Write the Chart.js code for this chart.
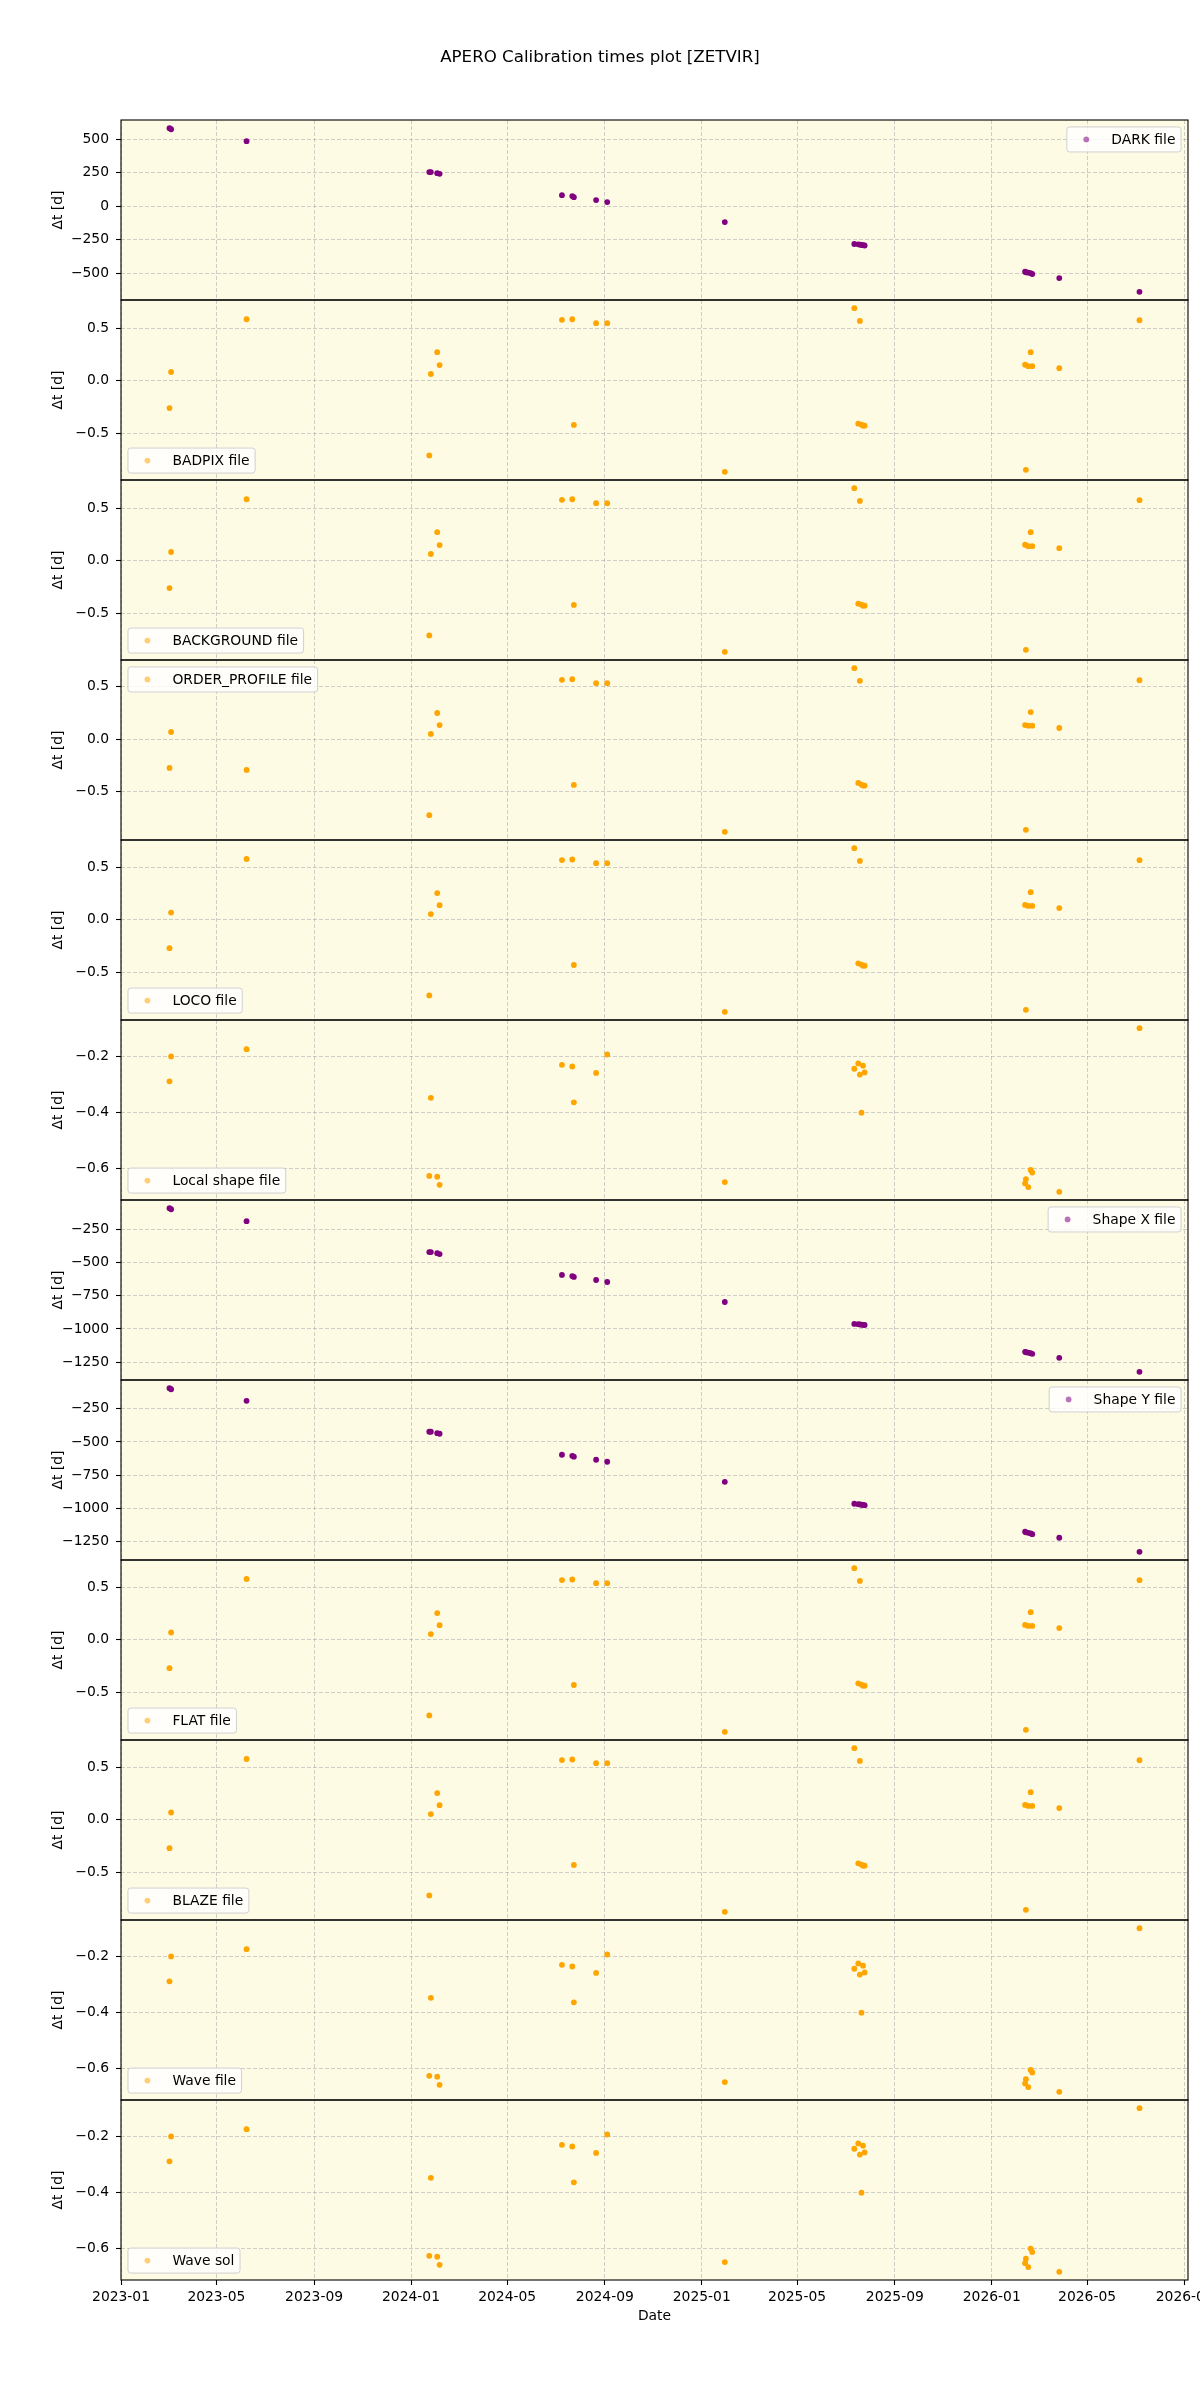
<!DOCTYPE html>
<html>
<head>
<meta charset="utf-8">
<script src="https://cdn.jsdelivr.net/npm/chart.js@4.4.0/dist/chart.umd.min.js"></script>
<style>
html,body{margin:0;padding:0;background:#ffffff;}
#c{display:block;}
</style>
</head>
<body>
<canvas id="c" width="1200" height="2400" style="width:1200px;height:2400px"></canvas>
<script>
// ---------------- DATA ----------------
const chartTitle = 'APERO Calibration times plot [ZETVIR]';
const obsDates = ['2023-03-03','2023-03-05','2023-06-08','2024-01-24','2024-01-26','2024-02-03','2024-02-06',
  '2024-07-09','2024-07-22','2024-07-24','2024-08-21','2024-09-04','2025-01-30',
  '2025-07-12','2025-07-17','2025-07-19','2025-07-21','2025-07-23','2025-07-25',
  '2026-02-12','2026-02-13','2026-02-16','2026-02-19','2026-02-21','2026-03-27','2026-07-06'];

const panelLabels = ['DARK file','BADPIX file','BACKGROUND file','ORDER_PROFILE file','LOCO file',
  'Local shape file','Shape X file','Shape Y file','FLAT file','BLAZE file','Wave file','Wave sol'];

const darkDt = [582, 574, 485, 254, 254, 246, 241, 82, 75, 67, 45, 30, -119,
  -283, -285, -287, -290, -292, -294, -490, -494, -497, -500, -507, -537, -640];
const badpixDt = [-0.26, 0.083, 0.585, -0.71, 0.064, 0.272, 0.149, 0.579, 0.585, -0.42, 0.547, 0.547, -0.866,
  0.69, -0.408, 0.569, -0.417, -0.427, -0.427, 0.152, -0.847, 0.139, 0.272, 0.139, 0.12, 0.576];
const backgroundDt = [-0.26, 0.083, 0.585, -0.71, 0.064, 0.272, 0.149, 0.579, 0.585, -0.42, 0.547, 0.547, -0.866,
  0.69, -0.408, 0.569, -0.417, -0.427, -0.427, 0.152, -0.847, 0.139, 0.272, 0.139, 0.12, 0.576];
const orderProfileDt = [-0.276, 0.067, -0.295, -0.727, 0.048, 0.248, 0.133, 0.565, 0.571, -0.438, 0.533, 0.533, -0.886,
  0.676, -0.419, 0.555, -0.435, -0.445, -0.445, 0.133, -0.867, 0.127, 0.257, 0.127, 0.105, 0.562];
const locoDt = [-0.27, 0.07, 0.58, -0.72, 0.055, 0.255, 0.14, 0.57, 0.575, -0.43, 0.54, 0.54, -0.876,
  0.683, -0.414, 0.562, -0.426, -0.436, -0.436, 0.142, -0.857, 0.133, 0.264, 0.133, 0.112, 0.569];
const localShapeDt = [-0.290, -0.201, -0.175, -0.628, -0.349, -0.631, -0.660, -0.231, -0.237, -0.365, -0.260, -0.194, -0.650,
  -0.245, -0.226, -0.266, -0.402, -0.234, -0.258, -0.655, -0.640, -0.668, -0.607, -0.616, -0.685, -0.100];
const shapeXDt = [-92, -100, -190, -422, -422, -430, -437, -594, -602, -609, -632, -647, -797,
  -962, -964, -966, -968, -969, -970, -1172, -1175, -1178, -1182, -1187, -1217, -1322];
const shapeYDt = [-95, -103, -190, -423, -423, -434, -438, -596, -604, -611, -634, -649, -800,
  -965, -968, -970, -972, -974, -976, -1176, -1180, -1184, -1188, -1194, -1221, -1327];
const flatDt = [-0.27, 0.07, 0.58, -0.72, 0.055, 0.255, 0.14, 0.57, 0.575, -0.43, 0.54, 0.54, -0.876,
  0.683, -0.414, 0.562, -0.426, -0.436, -0.436, 0.142, -0.857, 0.133, 0.264, 0.133, 0.112, 0.569];
const blazeDt = [-0.27, 0.07, 0.58, -0.72, 0.055, 0.255, 0.14, 0.57, 0.575, -0.43, 0.54, 0.54, -0.876,
  0.683, -0.414, 0.562, -0.426, -0.436, -0.436, 0.142, -0.857, 0.133, 0.264, 0.133, 0.112, 0.569];
const waveDt = [-0.290, -0.201, -0.175, -0.628, -0.349, -0.631, -0.660, -0.231, -0.237, -0.365, -0.260, -0.194, -0.650,
  -0.245, -0.226, -0.266, -0.402, -0.234, -0.258, -0.655, -0.640, -0.668, -0.607, -0.616, -0.685, -0.100];
const waveSolDt = [-0.290, -0.201, -0.175, -0.628, -0.349, -0.631, -0.660, -0.231, -0.237, -0.365, -0.260, -0.194, -0.650,
  -0.245, -0.226, -0.266, -0.402, -0.234, -0.258, -0.654, -0.638, -0.668, -0.602, -0.614, -0.685, -0.100];

const xTickLabels = ['2023-01','2023-05','2023-09','2024-01','2024-05','2024-09','2025-01','2025-05','2025-09','2026-01','2026-05','2026-09'];
const yStepSizes = [250, 0.5, 0.5, 0.5, 0.5, 0.2, 250, 250, 0.5, 0.5, 0.2, 0.2];
const yAxisTitle = '\u0394t [d]';
const xAxisTitle = 'Date';

// ---------------- STYLE ----------------
const PURPLE = '#800080', ORANGE = '#ffa500';
const panelColors = [PURPLE, ORANGE, ORANGE, ORANGE, ORANGE, ORANGE, PURPLE, PURPLE, ORANGE, ORANGE, ORANGE, ORANGE];
const legendLoc = ['ur','ll','ll','ul','ll','ll','ur','ur','ll','ll','ll','ll'];
const FONT = '"DejaVu Sans", "Liberation Sans", sans-serif';
const FS = 13.89;
const BG = '#fdfbe3';
const GRID = 'rgba(150,150,160,0.45)';

// ---------------- BUILD ----------------
const panelValues = [darkDt, badpixDt, backgroundDt, orderProfileDt, locoDt, localShapeDt,
  shapeXDt, shapeYDt, flatDt, blazeDt, waveDt, waveSolDt];
const DAY0 = Date.UTC(2023, 0, 1);
const dayNum = s => (Date.UTC(+s.slice(0,4), +s.slice(5,7) - 1, +s.slice(8,10)) - DAY0) / 86400000;
const xs = obsDates.map(dayNum);
const xTickVals = xTickLabels.map(l => dayNum(l + '-01'));
const xLo = Math.min(...xs), xHi = Math.max(...xs), xPad = 0.05 * (xHi - xLo);

function fmtTick(v, step) {
  const dec = step >= 1 ? 0 : 1;
  const s = Math.abs(v) < 1e-9 ? (0).toFixed(dec) : v.toFixed(dec);
  return s.replace('-', '\u2212');
}

const datasets = panelValues.map((vals, i) => ({
  label: panelLabels[i],
  data: vals.map((v, j) => ({x: xs[j], y: v})),
  yAxisID: 'y' + i,
  xAxisID: 'x',
  showLine: false,
  pointRadius: 2.9,
  pointHoverRadius: 2.9,
  pointBorderWidth: 0,
  pointBackgroundColor: panelColors[i],
  pointBorderColor: panelColors[i],
  backgroundColor: panelColors[i],
  borderColor: panelColors[i]
}));

const scales = {
  x: {
    type: 'linear',
    position: 'bottom',
    min: xLo - xPad,
    max: xHi + xPad,
    bounds: 'data',
    afterBuildTicks: s => { s.ticks = xTickVals.map(v => ({value: v})); },
    afterFit: s => { s.height = 120; s.paddingLeft = 0; s.paddingRight = 12; },
    ticks: {
      autoSkip: false, maxRotation: 0, minRotation: 0, padding: 4,
      color: '#000', font: {family: FONT, size: FS},
      callback: (v, i) => xTickLabels[i]
    },
    grid: { color: GRID, lineWidth: 1, tickLength: 5, tickColor: '#000', tickWidth: 1.1, drawTicks: true },
    border: { display: false, dash: [4, 2] },
    title: { display: true, text: xAxisTitle, color: '#000', font: {family: FONT, size: FS}, padding: {top: 0, bottom: 75} }
  }
};
panelValues.forEach((vals, i) => {
  const lo = Math.min(...vals), hi = Math.max(...vals), pad = 0.05 * (hi - lo);
  const step = yStepSizes[i];
  scales['y' + i] = {
    type: 'linear',
    position: 'left',
    stack: 'panels',
    stackWeight: 1,
    weight: 12 - i,
    offset: false,
    min: lo - pad,
    max: hi + pad,
    bounds: 'data',
    afterBuildTicks: s => {
      const t = [];
      for (let k = Math.ceil(s.min / step - 1e-9); k * step <= s.max + 1e-9; k++) {
        t.push({value: +(k * step).toFixed(6)});
      }
      s.ticks = t;
    },
    afterFit: s => { s.width = 121; s.paddingTop = 0; s.paddingBottom = 0; },
    ticks: {
      padding: 7, autoSkip: false,
      color: '#000', font: {family: FONT, size: FS},
      callback: v => fmtTick(v, step)
    },
    grid: { color: GRID, lineWidth: 1, tickLength: 5, tickColor: '#000', tickWidth: 1.1, drawTicks: true },
    border: { display: false, dash: [4, 2] },
    title: { display: true, text: yAxisTitle, color: '#000', font: {family: FONT, size: FS}, padding: {top: 50, bottom: 0} }
  };
});

const bgPlugin = {
  id: 'bgPlugin',
  beforeDraw(chart) {
    const {ctx, chartArea: a} = chart;
    ctx.save();
    ctx.fillStyle = '#ffffff';
    ctx.fillRect(0, 0, chart.width, chart.height);
    ctx.fillStyle = BG;
    ctx.fillRect(a.left, a.top, a.right - a.left, a.bottom - a.top);
    ctx.restore();
  }
};

const spinePlugin = {
  id: 'spinePlugin',
  afterDatasetsDraw(chart) {
    const {ctx, chartArea: a} = chart;
    ctx.save();
    ctx.strokeStyle = '#000';
    ctx.lineWidth = 1.1;
    panelValues.forEach((v, i) => {
      const s = chart.scales['y' + i];
      ctx.strokeRect(a.left, s.top, a.right - a.left, s.bottom - s.top);
    });
    ctx.restore();
  }
};

const panelLegendPlugin = {
  id: 'panelLegend',
  afterDraw(chart) {
    const {ctx, chartArea: a} = chart;
    const pad = 0.4 * FS, hl = 2 * FS, htp = 0.8 * FS, axpad = 0.5 * FS;
    ctx.save();
    ctx.font = FS + 'px ' + FONT;
    chart.data.datasets.forEach((ds, i) => {
      const s = chart.scales['y' + i];
      const tw = ctx.measureText(ds.label).width;
      const w = pad + hl + htp + tw + pad;
      const h = 2 * pad + FS;
      const loc = legendLoc[i];
      const x = loc === 'ur' ? a.right - axpad - w : a.left + axpad;
      const y = loc === 'll' ? s.bottom - axpad - h : s.top + axpad;
      ctx.beginPath();
      ctx.roundRect(x, y, w, h, 2.8);
      ctx.fillStyle = 'rgba(255,255,255,0.8)';
      ctx.fill();
      ctx.lineWidth = 1;
      ctx.strokeStyle = '#d0d0d0';
      ctx.stroke();
      ctx.beginPath();
      ctx.arc(x + pad + hl / 2, y + h / 2, 2.9, 0, Math.PI * 2);
      ctx.globalAlpha = 0.55;
      ctx.fillStyle = panelColors[i];
      ctx.fill();
      ctx.globalAlpha = 1;
      ctx.fillStyle = '#000';
      ctx.textAlign = 'left';
      ctx.textBaseline = 'middle';
      ctx.fillText(ds.label, x + pad + hl + htp, y + h / 2 + 0.5);
    });
    ctx.restore();
  }
};

Chart.defaults.font.family = FONT;
Chart.defaults.font.size = FS;
Chart.defaults.color = '#000';

new Chart(document.getElementById('c'), {
  type: 'scatter',
  data: { datasets },
  options: {
    responsive: false,
    maintainAspectRatio: false,
    devicePixelRatio: 1,
    animation: false,
    events: [],
    layout: { padding: 0 },
    scales,
    plugins: {
      legend: { display: false },
      tooltip: { enabled: false },
      title: {
        display: true, text: chartTitle, color: '#000',
        font: {family: FONT, size: 16.67, weight: 'normal'},
        padding: {top: 48, bottom: 52}
      }
    }
  },
  plugins: [bgPlugin, spinePlugin, panelLegendPlugin]
});
</script>
</body>
</html>
